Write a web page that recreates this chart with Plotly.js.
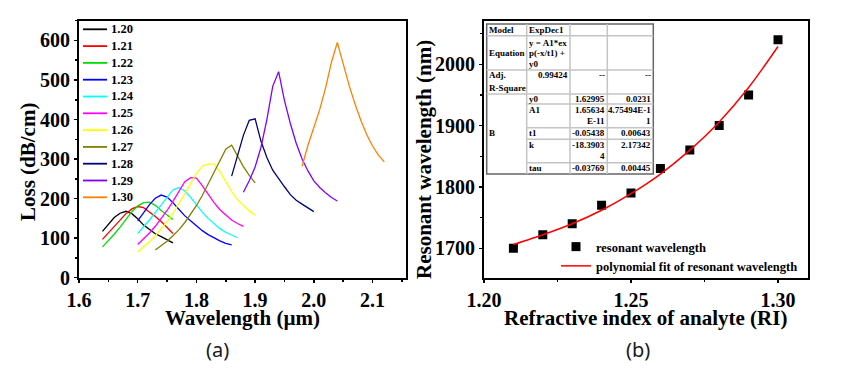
<!DOCTYPE html>
<html>
<head>
<meta charset="utf-8">
<script src="https://cdn.plot.ly/plotly-3.0.1.min.js"></script>
<style>html,body{margin:0;padding:0;background:#fff;}#chart{width:860px;height:371px;}</style>
</head>
<body>
<div id="chart"></div>
<script>
// ---------------- Panel (a): loss spectra ----------------
const seriesNames = ["1.20","1.21","1.22","1.23","1.24","1.25","1.26","1.27","1.28","1.29","1.30"];
const seriesColors = ["#000000","#ff0000","#00e000","#0000ff","#00ffff","#ff00ff","#ffff00","#808000","#000080","#8000ff","#ff8000"];

const wl120 = [1.64,1.65,1.66,1.67,1.68,1.69,1.70,1.71,1.72,1.73,1.74,1.75,1.76];
const loss120 = [117,136,152,163,168,162,149,133,121,111,104,95,88];
const wl121 = [1.64,1.65,1.66,1.67,1.68,1.69,1.70,1.71,1.72,1.73,1.74,1.75,1.76];
const loss121 = [97,113,129,146,162,174,180,177,167,155,142,127,112];
const wl122 = [1.64,1.65,1.66,1.67,1.68,1.69,1.70,1.71,1.72,1.73,1.74,1.75,1.76];
const loss122 = [78,93,110,128,148,167,181,190,191,183,170,158,147];
const wl123 = [1.70,1.71,1.72,1.73,1.74,1.75,1.76,1.77,1.78,1.79,1.80,1.81,1.82,1.83,1.84,1.85,1.86];
const loss123 = [144,165,185,201,209,204,190,173,157,144,131,119,109,100,93,87,83];
const wl124 = [1.70,1.71,1.72,1.73,1.74,1.75,1.76,1.77,1.78,1.79,1.80,1.81,1.82,1.83,1.84,1.85,1.86,1.87];
const loss124 = [112,128,146,165,185,205,222,228,220,203,184,166,150,136,124,115,107,101];
const wl125 = [1.70,1.71,1.72,1.73,1.74,1.75,1.76,1.77,1.78,1.79,1.80,1.81,1.82,1.83,1.84,1.85,1.86,1.87,1.88];
const loss125 = [84,98,113,130,149,170,193,218,242,253,252,233,210,190,172,158,146,137,130];
const wl126 = [1.70,1.71,1.72,1.73,1.74,1.75,1.76,1.77,1.78,1.79,1.80,1.81,1.82,1.83,1.84,1.85,1.86,1.87,1.88,1.89,1.90];
const loss126 = [65,77,91,106,123,142,163,186,211,238,264,282,287,287,268,243,218,197,182,169,158];
const wl127 = [1.73,1.74,1.75,1.76,1.77,1.78,1.79,1.80,1.81,1.82,1.83,1.84,1.85,1.86,1.87,1.88,1.89,1.90];
const loss127 = [70,80,92,106,121,139,159,182,208,237,268,298,325,335,307,281,259,240];
const wl128 = [1.86,1.87,1.88,1.89,1.90,1.91,1.92,1.93,1.94,1.95,1.96,1.97,1.98,1.99,2.00];
const loss128 = [257,310,360,398,402,345,304,272,250,230,210,196,186,176,167];
const wl129 = [1.88,1.89,1.90,1.91,1.92,1.93,1.94,1.95,1.96,1.97,1.98,1.99,2.00,2.01,2.02,2.03,2.04];
const loss129 = [216,245,280,330,400,484,521,448,390,340,300,270,245,228,215,203,194];
const wl130 = [1.98,1.99,2.00,2.01,2.02,2.03,2.04,2.05,2.06,2.07,2.08,2.09,2.10,2.11,2.12];
const loss130 = [282,335,380,425,480,545,595,540,487,440,398,362,333,310,293];

const wlSets = [wl120,wl121,wl122,wl123,wl124,wl125,wl126,wl127,wl128,wl129,wl130];
const lossSets = [loss120,loss121,loss122,loss123,loss124,loss125,loss126,loss127,loss128,loss129,loss130];

// ---------------- Panel (b): resonant wavelength ----------------
const riValues = [1.21,1.22,1.23,1.24,1.25,1.26,1.27,1.28,1.29,1.30];
const resonantNm = [1700,1722,1740,1770,1790,1830,1860,1900,1950,2040];
const fitNm = [1706,1722,1740,1762,1789,1821,1860,1906,1962,2029];
const bLegendNames = ["resonant wavelength","polynomial fit of resonant wavelength"];

// ---------------- axis titles ----------------
const axisTitles = ["Wavelength (µm)","Loss (dB/cm)","Refractive index of analyte (RI)","Resonant wavelength (nm)"];

// ---------------- Inset table text ----------------
const tblHeaders = ["Model","Equation","Adj.","R-Square","B"];
const tblModel = "ExpDec1";
const tblEquation = ["y = A1*ex","p(-x/t1) +","y0"];
const tblAdjR2 = ["0.99424","--","--"];
const tblParams = ["y0","A1","t1","k","tau"];
const tblValues = [["1.62995"],["1.65634","E-11"],["-0.05438"],["-18.3903","4"],["-0.03769"]];
const tblErrors = [["0.0231"],["4.75494E-1","1"],["0.00643"],["2.17342"],["0.00445"]];

// ---------------- helpers ----------------
const W = 860, H = 371;
const px = x => x / W;
const py = y => 1 - y / H;
const SERIF = "Liberation Serif, Times New Roman, serif";

const traces = [];
seriesNames.forEach((n, i) => {
  traces.push({
    type: "scatter", mode: "lines", name: n,
    x: wlSets[i], y: lossSets[i],
    xaxis: "x", yaxis: "y", showlegend: false,
    line: {color: seriesColors[i], width: 1.3}
  });
});
traces.push({
  type: "scatter", mode: "markers", name: bLegendNames[0],
  x: riValues, y: resonantNm, xaxis: "x2", yaxis: "y2", legend: "legend2",
  marker: {symbol: "square", size: 9, color: "#000"}
});
traces.push({
  type: "scatter", mode: "lines", name: bLegendNames[1],
  x: riValues, y: fitNm, xaxis: "x2", yaxis: "y2", legend: "legend2",
  line: {color: "#ff0000", width: 1.5, shape: "spline", smoothing: 0.8}
});

// plot area geometry (pixels)
const aL = 79, aR = 406, bL = 484, bR = 808, pTop = 20.7, pBot = 277.7;

function axisBase(extra) {
  return Object.assign({
    showline: true, mirror: true, linewidth: 2, linecolor: "#000",
    showgrid: false, zeroline: false,
    ticks: "outside", ticklen: 3, tickwidth: 1.5, tickcolor: "#000",
    tickfont: {family: SERIF, size: 20, color: "#000", weight: "bold"}
  }, extra);
}

const shapes = [];
const annotations = [];

// ---------------- axis title annotations ----------------
const titleFont = {family: SERIF, size: 21, color: "#000", weight: "bold"};
function titleAnn(text, x, y, angle) {
  annotations.push({text: text, xref: "paper", yref: "paper", x: px(x), y: py(y),
    xanchor: "center", yanchor: "middle", showarrow: false, textangle: angle,
    font: titleFont, borderpad: 0});
}
titleAnn(axisTitles[0], 242, 318, 0);
titleAnn(axisTitles[1], 28, 162, -90);
titleAnn(axisTitles[2], 645, 318, 0);
titleAnn(axisTitles[3], 424, 160, -90);

// ---------------- legend of panel (a) ----------------
const legLineX0 = 83, legLineX1 = 107, legTextX = 110, legY0 = 29.3, legDy = 16.8;
seriesNames.forEach((n, i) => {
  const y = legY0 + i * legDy;
  shapes.push({type: "line", xref: "paper", yref: "paper",
    x0: px(legLineX0), x1: px(legLineX1), y0: py(y), y1: py(y),
    line: {color: seriesColors[i], width: 1.8}});
  annotations.push({text: n, xref: "paper", yref: "paper", x: px(legTextX), y: py(y),
    xanchor: "left", yanchor: "middle", showarrow: false, borderpad: 0,
    font: {family: SERIF, size: 12.5, color: "#000", weight: "bold"}});
});

// ---------------- table shapes & annotations ----------------
const colX = [486.7, 526.7, 570, 607.3, 653.3];
const rowY = [24, 35.7, 70, 94, 104, 127.7, 139.3, 162.7, 174];
shapes.push({type: "rect", xref: "paper", yref: "paper",
  x0: px(colX[0]), x1: px(colX[4]), y0: py(rowY[8]), y1: py(rowY[0]),
  fillcolor: "#fff", line: {color: "#666", width: 1.5}, layer: "above"});
[1,2,3].forEach(r => shapes.push({type: "line", xref: "paper", yref: "paper",
  x0: px(colX[0]), x1: px(colX[4]), y0: py(rowY[r]), y1: py(rowY[r]),
  line: {color: "#c4c4c4", width: 1.5}, layer: "above"}));
[4,5,6,7].forEach(r => shapes.push({type: "line", xref: "paper", yref: "paper",
  x0: px(colX[1]), x1: px(colX[4]), y0: py(rowY[r]), y1: py(rowY[r]),
  line: {color: "#c4c4c4", width: 1.5}, layer: "above"}));
[1,2,3].forEach(c => shapes.push({type: "line", xref: "paper", yref: "paper",
  x0: px(colX[c]), x1: px(colX[c]), y0: py(rowY[0]), y1: py(rowY[8]),
  line: {color: "#c4c4c4", width: 1.5}, layer: "above"}));

const tfont = {family: SERIF, size: 9, color: "#000", weight: "bold"};
function cell(text, x, y, anchor) {
  annotations.push({text: text, xref: "paper", yref: "paper", x: px(x), y: py(y),
    xanchor: anchor, yanchor: "middle", showarrow: false, font: tfont, borderpad: 0});
}
const leftA = colX[0] + 1.5, leftB = colX[1] + 1.5;
const rightB = colX[2] - 1.5, rightC = colX[3] - 1.5, rightD = colX[4] - 1.5;
cell(tblHeaders[0], leftA, 30, "left");
cell(tblModel, leftB, 30, "left");
cell(tblHeaders[1], leftA, 53.3, "left");
[42.7, 53.3, 63.6].forEach((y, i) => cell(tblEquation[i], leftB, y, "left"));
cell(tblHeaders[2], leftA, 75, "left");
cell(tblHeaders[3], leftA, 87.5, "left");
cell(tblAdjR2[0], rightB, 75, "right");
cell(tblAdjR2[1], rightC, 75, "right");
cell(tblAdjR2[2], rightD, 75, "right");
cell(tblHeaders[4], leftA, 133.3, "left");
const paramY = [99.3, 110, 133.3, 145, 168.3];
tblParams.forEach((p, i) => {
  cell(p, leftB, paramY[i], "left");
  tblValues[i].forEach((t, j) => cell(t, rightC, paramY[i] + j * 10.8, "right"));
  tblErrors[i].forEach((t, j) => cell(t, rightD, paramY[i] + j * 10.8, "right"));
});

// panel labels
["(a)", "(b)"].forEach((t, i) => annotations.push({
  text: t, xref: "paper", yref: "paper", x: px(i === 0 ? 217 : 638), y: py(349),
  xanchor: "center", yanchor: "middle", showarrow: false,
  font: {family: "Noto Sans, DejaVu Sans, sans-serif", size: 20, color: "#1a1a1a"}}));

const layout = {
  width: W, height: H,
  margin: {l: 0, r: 0, t: 0, b: 0},
  paper_bgcolor: "#fff", plot_bgcolor: "#fff",
  font: {family: SERIF, color: "#000"},
  showlegend: true,
  xaxis: axisBase({
    domain: [px(aL), px(aR)], range: [1.6, 2.157], dtick: 0.1, tick0: 1.6, tickformat: ".1f",
    anchor: "y",
    minor: {ticks: "outside", ticklen: 2, dtick: 0.05, tickcolor: "#000"}
  }),
  yaxis: axisBase({
    domain: [py(pBot), py(pTop)], range: [0, 650], dtick: 100, anchor: "x",
    minor: {ticks: "outside", ticklen: 2, dtick: 50, tickcolor: "#000"}
  }),
  xaxis2: axisBase({
    domain: [px(bL), px(bR)], range: [1.2, 1.3102], dtick: 0.05, tick0: 1.2, tickformat: ".2f",
    anchor: "y2",
    minor: {ticks: "outside", ticklen: 2, dtick: 0.025, tickcolor: "#000"}
  }),
  yaxis2: axisBase({
    domain: [py(pBot), py(pTop)], range: [1652, 2071], dtick: 100, anchor: "x2",
    minor: {ticks: "outside", ticklen: 2, dtick: 50, tickcolor: "#000"}
  }),
  legend2: {
    x: px(556), y: py(232), xanchor: "left", yanchor: "top",
    bgcolor: "rgba(0,0,0,0)", borderwidth: 0, itemwidth: 30,
    font: {family: SERIF, size: 12.5, color: "#000", weight: "bold"}
  },
  shapes: shapes,
  annotations: annotations
};

Plotly.newPlot("chart", traces, layout, {displayModeBar: false, staticPlot: true});
</script>
</body>
</html>
